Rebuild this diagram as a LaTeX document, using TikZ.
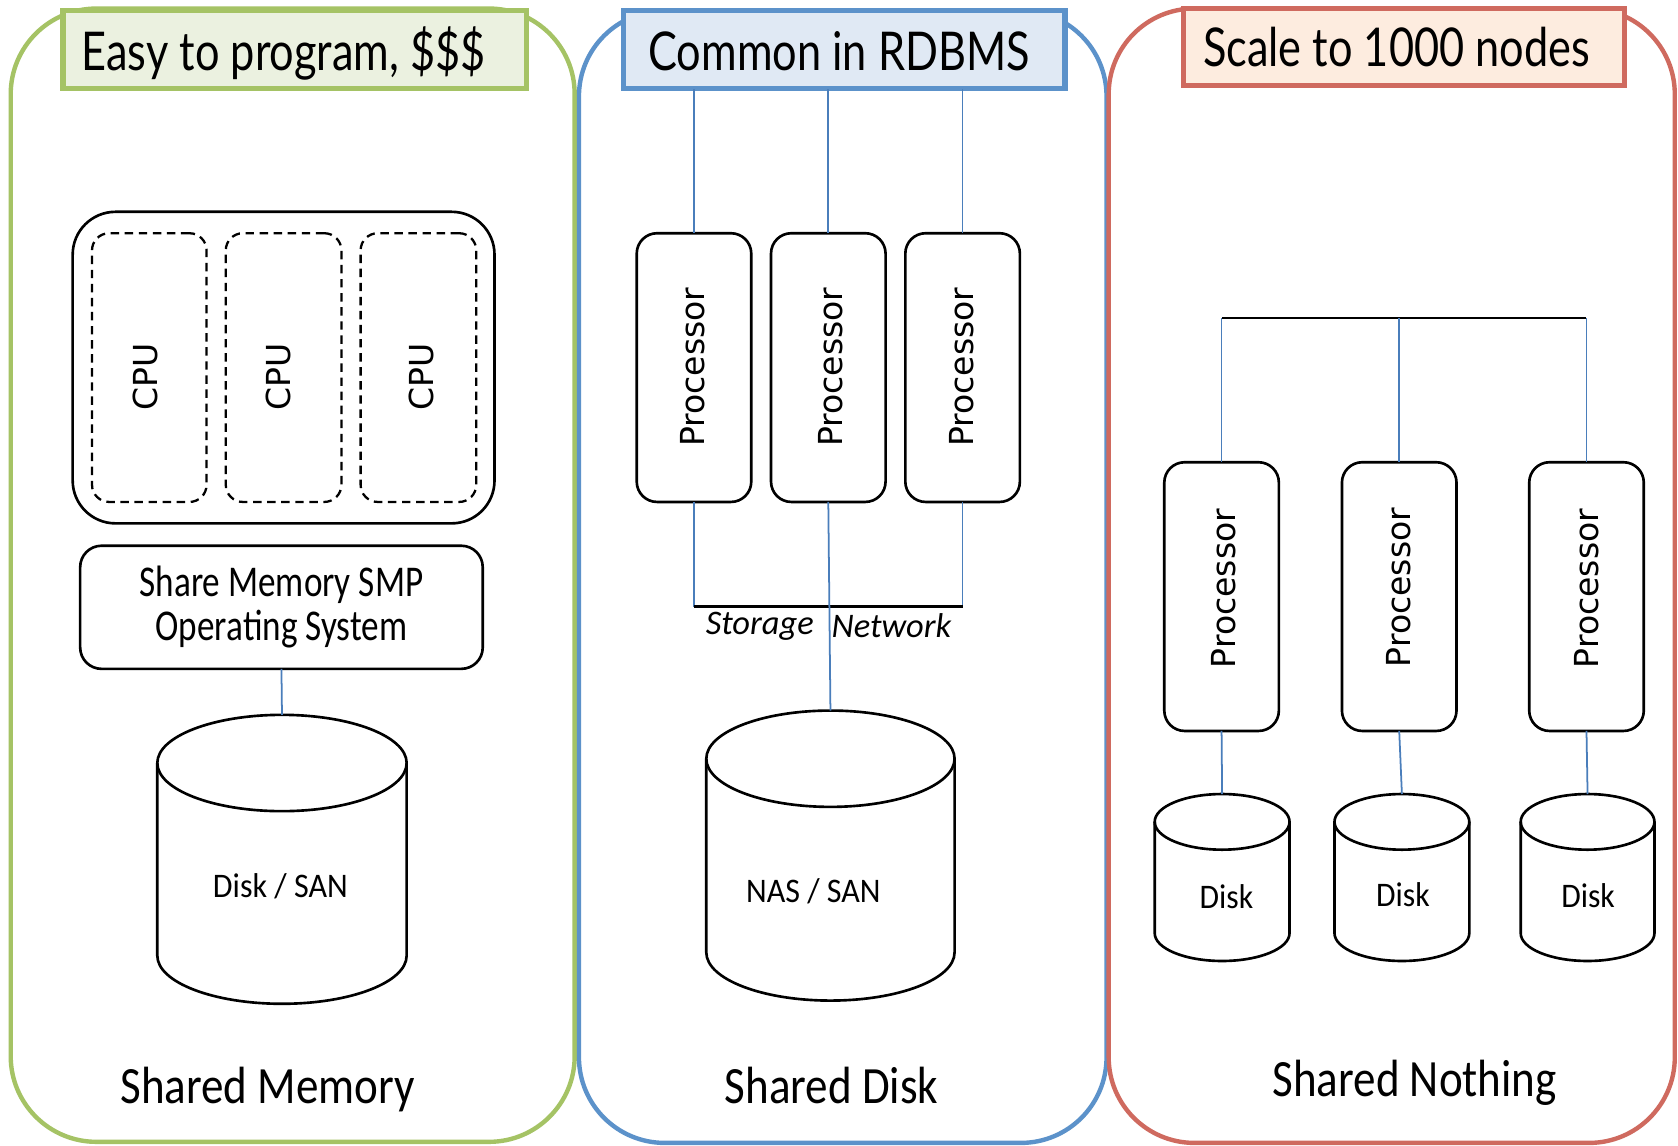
\documentclass[tikz,border=0pt]{standalone}
\usepackage{fontspec}
\setmainfont{Carlito}
\newfontfamily\headfont{Lato}
\newfontfamily\unitfont{DejaVu Sans}
\usepackage{graphicx}
\usetikzlibrary{calc}

% one drawing unit
\newlength{\gpx}\setlength{\gpx}{0.30448pt}

\definecolor{grnline}{HTML}{A5C365}
\definecolor{grnfill}{HTML}{EBF1E0}
\definecolor{bluline}{HTML}{5C92CA}
\definecolor{blufill}{HTML}{E0E9F4}
\definecolor{redline}{HTML}{CF6A5F}
\definecolor{redfill}{HTML}{FDECDF}
\definecolor{wire}{HTML}{4A7EBB}

\newcommand\hsq[1]{\scalebox{0.81}[1]{#1}}
\newcommand\bsq[1]{\scalebox{0.86}[1]{#1}}

\tikzset{
  panel/.style={line width=1.25pt, rounded corners=80\gpx},
  hdrbox/.style={draw, line width=1.5pt, inner sep=0pt, outer sep=0pt,
    minimum height=73\gpx},
  hdrtext/.style={anchor=base, inner sep=0pt, font=\headfont\fontsize{15.2}{18}\selectfont},
  unitline/.style={line width=0.75pt, black},
  unitbox/.style={draw, unitline, rounded corners=19\gpx, minimum width=107\gpx,
    minimum height=251\gpx, inner sep=0pt, outer sep=0pt},
  cpubox/.style={draw, line width=0.65pt, dash pattern=on 2.4pt off 1.6pt,
    rounded corners=16\gpx, minimum height=251\gpx, inner sep=0pt, outer sep=0pt},
  unittext/.style={inner sep=0pt, font=\unitfont\fontsize{9.4}{11}\selectfont},
  drumbox/.style={inner sep=0pt, outer sep=0pt},
  drumtext/.style={inner sep=0pt, font=\fontsize{9.8}{12}\selectfont},
  link/.style={draw=wire, line width=0.5pt},
  bus/.style={draw=black, line width=0.75pt},
  footer/.style={anchor=base, inner sep=0pt, font=\fontsize{14.9}{18}\selectfont},
}

% cylinder: name, centre x, top y, width, height, end radius
\newcommand\drum[6]{%
  \node[drumbox, minimum width=#4\gpx, minimum height=#5\gpx] (#1) at (#2,{#3+#5/2}) {};
  \pgfmathsetmacro\drmL{#2-#4/2}%
  \pgfmathsetmacro\drmR{#2+#4/2}%
  \pgfmathsetmacro\drmT{#3}%
  \pgfmathsetmacro\drmB{#3+#5}%
  \pgfmathsetmacro\drmTc{#3+#6}%
  \pgfmathsetmacro\drmTf{#3+2*#6}%
  \pgfmathsetmacro\drmBc{#3+#5-#6}%
  \pgfmathsetmacro\drmkx{0.5523*#4/2}%
  \pgfmathsetmacro\drmky{0.5523*#6}%
  \draw[unitline] (\drmL,\drmTc) -- (\drmL,\drmBc)
    .. controls (\drmL,\drmBc+\drmky) and (#2-\drmkx,\drmB) .. (#2,\drmB)
    .. controls (#2+\drmkx,\drmB) and (\drmR,\drmBc+\drmky) .. (\drmR,\drmBc)
    -- (\drmR,\drmTc);
  \draw[unitline] (\drmL,\drmTc)
    .. controls (\drmL,\drmTc-\drmky) and (#2-\drmkx,\drmT) .. (#2,\drmT)
    .. controls (#2+\drmkx,\drmT) and (\drmR,\drmTc-\drmky) .. (\drmR,\drmTc)
    .. controls (\drmR,\drmTc+\drmky) and (#2+\drmkx,\drmTf) .. (#2,\drmTf)
    .. controls (#2-\drmkx,\drmTf) and (\drmL,\drmTc+\drmky) .. (\drmL,\drmTc) -- cycle;
}

\begin{document}
\begin{tikzpicture}[x=0.010702cm, y=-0.010702cm]
\fill[white] (0,0) rectangle (1568,1070);
\useasboundingbox (0,0) rectangle (1568,1070);

% ---------- the three panels ----------
\draw[panel, grnline] (10,8) rectangle (537,1067);
\draw[panel, bluline] (541,10) rectangle (1034,1068);
\draw[panel, redline] (1036,8) rectangle (1565,1068);

\node[hdrbox, draw=grnline, fill=grnfill, minimum width=433\gpx] (hdrA) at (275.5,46.5) {};
\node[hdrbox, draw=bluline, fill=blufill, minimum width=412\gpx] (hdrB) at (789,46.5) {};
\node[hdrbox, draw=redline, fill=redfill, minimum width=412\gpx, minimum height=72\gpx] (hdrC) at (1312,44) {};

\node[hdrtext] (ttlA) at (265,66) {\hsq{Easy to program, \$\$\$}};
\node[hdrtext] (ttlB) at (784,66) {\hsq{Common in RDBMS}};
\node[hdrtext] (ttlC) at (1305,62) {\hsq{Scale to 1000 nodes}};

% ---------- shared memory ----------
\node[draw, unitline, rounded corners=40\gpx, minimum width=394\gpx, minimum height=291\gpx,
      inner sep=0pt, outer sep=0pt] (cpuset) at (265,343.5) {};
\node[cpubox, minimum width=107\gpx] (cpu1) at (139.5,343.5) {};
\node[cpubox, minimum width=108\gpx] (cpu2) at (265,343.5) {};
\node[cpubox, minimum width=108\gpx] (cpu3) at (391,343.5) {};
\node[unittext] (cpu1t) at (136,352) {\rotatebox{90}{CPU}};
\node[unittext] (cpu2t) at (260,352) {\rotatebox{90}{CPU}};
\node[unittext] (cpu3t) at (394,352) {\rotatebox{90}{CPU}};

\node[draw, unitline, rounded corners=20\gpx, minimum width=376\gpx, minimum height=115\gpx,
      inner sep=0pt, outer sep=0pt, align=center, font=\fontsize{12.5}{12.4}\selectfont]
  (osbox) at (263,567.5)
  {\scalebox{0.8}[1]{Share Memory SMP}\\\scalebox{0.8}[1]{Operating System}};

\drum{diskA}{263.5}{668}{233}{270}{45}
\node[drumtext] (diskAt) at (262,828) {\scalebox{0.93}[1]{Disk / SAN}};
\draw[link] (osbox.south) -- (diskA.north);

\node[footer] (capA) at (250,1031) {\bsq{Shared Memory}};

% ---------- shared disk ----------
\node[unitbox] (p1) at (648.5,343.5) {};
\node[unitbox] (p2) at (774,343.5) {};
\node[unitbox] (p3) at (899.5,343.5) {};
\node[unittext] (p1t) at (647,343) {\rotatebox{90}{Processor}};
\node[unittext] (p2t) at (776,343) {\rotatebox{90}{Processor}};
\node[unittext] (p3t) at (899,343) {\rotatebox{90}{Processor}};

\draw[link] (p1.north) -- (p1.north |- hdrB.south);
\draw[link] (p2.north) -- (p2.north |- hdrB.south);
\draw[link] (p3.north) -- (p3.north |- hdrB.south);

\coordinate (sanrail) at (774,567);
\draw[link] (p1.south) -- (p1.south |- sanrail);
\draw[link] (p3.south) -- (p3.south |- sanrail);
\draw[bus] (p1.south |- sanrail) -- (p3.south |- sanrail);

\node[drumtext, font=\itshape\fontsize{9.8}{12}\selectfont] (stor) at (710,585) {Storage};
\node[drumtext, font=\itshape\fontsize{9.8}{12}\selectfont] (netw) at (833,585) {Network};

\drum{diskB}{776}{664}{232}{271}{45}
\node[drumtext] (diskBt) at (760,833) {\scalebox{0.93}[1]{NAS / SAN}};
\draw[link] (p2.south) -- (diskB.north);

\node[footer] (capB) at (777,1031) {\bsq{Shared Disk}};

% ---------- shared nothing ----------
\coordinate (busL) at (1142,297);
\coordinate (busR) at (1482,297);
\draw[bus] (busL) -- (busR);

\node[unitbox] (q1) at (1141.5,557.5) {};
\node[unitbox] (q2) at (1307.5,557.5) {};
\node[unitbox] (q3) at (1482.5,557.5) {};
\node[unittext] (q1t) at (1143,550) {\rotatebox{90}{Processor}};
\node[unittext] (q2t) at (1307,549) {\rotatebox{90}{Processor}};
\node[unittext] (q3t) at (1483,550) {\rotatebox{90}{Processor}};

\draw[link] (q1.north) -- (q1.north |- busL);
\draw[link] (q2.north) -- (q2.north |- busL);
\draw[link] (q3.north) -- (q3.north |- busL);

\drum{d1}{1142}{742}{126}{156}{26}
\drum{d2}{1310}{742}{126}{156}{26}
\drum{d3}{1483.5}{742}{125}{156}{26}
\node[drumtext] (d1t) at (1146,838) {\scalebox{0.92}[1]{Disk}};
\node[drumtext] (d2t) at (1311,836) {\scalebox{0.92}[1]{Disk}};
\node[drumtext] (d3t) at (1484,837) {\scalebox{0.92}[1]{Disk}};

\draw[link] (q1.south) -- (d1.north);
\draw[link] (q2.south) -- (d2.north);
\draw[link] (q3.south) -- (d3.north);

\node[footer] (capC) at (1322,1025) {\bsq{Shared Nothing}};
\end{tikzpicture}
\end{document}
